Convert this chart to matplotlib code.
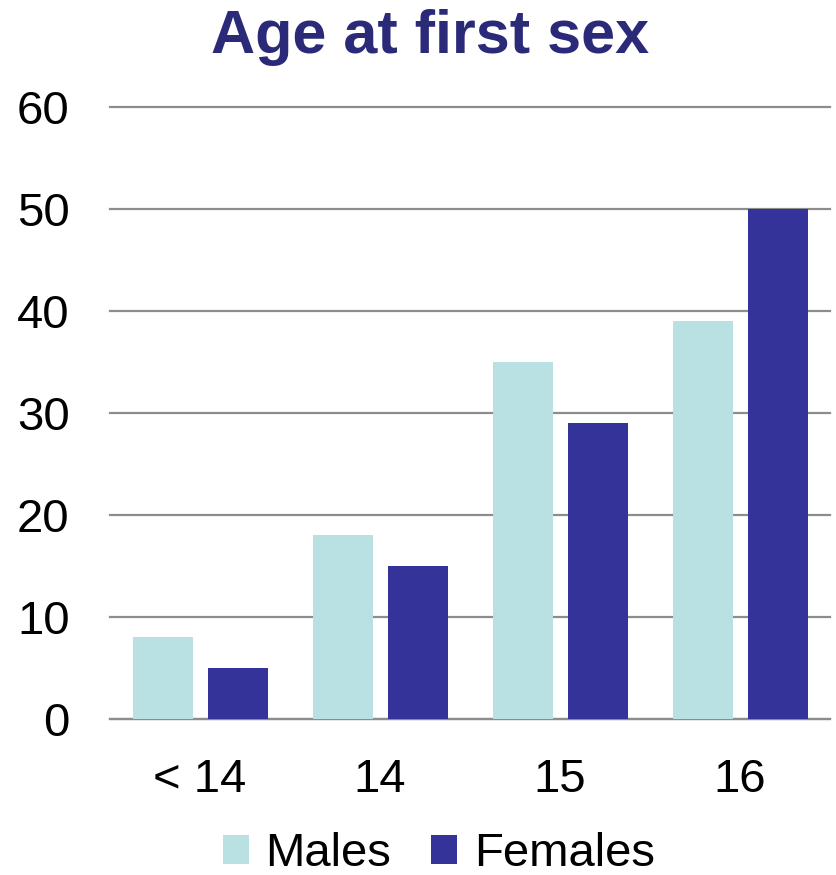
import numpy as np
import matplotlib
matplotlib.use("Agg")
import matplotlib.pyplot as plt
from matplotlib import font_manager

categories = ["< 14", "14", "15", "16"]
males = [8, 18, 35, 39]
females = [5, 15, 29, 50]
yticks = [0, 10, 20, 30, 40, 50, 60]

plt.rcParams['font.family'] = ['Liberation Sans', 'DejaVu Sans']

names = {f.name for f in font_manager.fontManager.ttflist}
title_family = 'Liberation Sans Narrow' if 'Liberation Sans Narrow' in names else 'Liberation Sans'

fig = plt.figure(figsize=(8.36, 8.75), dpi=100)
ax = fig.add_axes([0.1316, 0.1783, 0.8614, 0.6994])

x = np.arange(len(categories))
w = 1 / 3
ax.bar(x - w / 2 - 0.0417, males, width=w, color='#B9E0E2', zorder=3, label='Males')
ax.bar(x + w / 2 + 0.0417, females, width=w, color='#333399', zorder=3, label='Females')

ax.set_xlim(-0.5, 3.5)
ax.set_ylim(0, 60)
ax.set_yticks(yticks)
ax.set_xticks(x)
ax.set_xticklabels(categories)
ax.yaxis.grid(True, color='#8C8C8C', linewidth=1.6, zorder=0)
for gl in ax.get_ygridlines():
    gl.set_clip_on(False)
ax.set_axisbelow(True)
for s in ['top', 'right', 'left']:
    ax.spines[s].set_visible(False)
ax.spines['bottom'].set_color('#8C8C8C')
ax.spines['bottom'].set_linewidth(1.6)
ax.tick_params(axis='both', length=0, labelsize=34)
ax.tick_params(axis='y', pad=29)
ax.tick_params(axis='x', pad=28)

fig.suptitle('Age at first sex', x=0.515, y=0.99, va='top', fontsize=44,
             fontweight='bold', color='#2B2A78', family=title_family)

fig.legend(loc='center', bbox_to_anchor=(0.525, 0.024), ncol=2, frameon=False,
           fontsize=34, handlelength=0.55, handleheight=0.55, handletextpad=0.35,
           columnspacing=0.85)

fig.savefig('out.png', dpi=100)
